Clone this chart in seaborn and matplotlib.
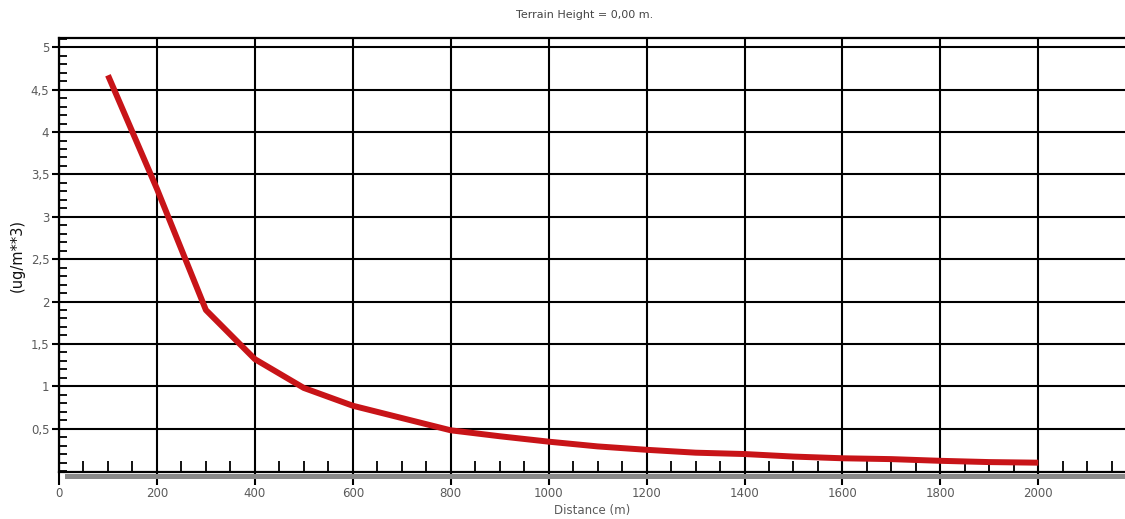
import numpy as np
import pandas as pd
import matplotlib
matplotlib.use("Agg")
import matplotlib.pyplot as plt
import seaborn as sns
from matplotlib.patches import Rectangle
from matplotlib.ticker import MultipleLocator, FixedLocator, FuncFormatter

# ---- data ----
distance_m = [100, 200, 300, 400, 500, 600, 700, 800, 900, 1000,
              1100, 1200, 1300, 1400, 1500, 1600, 1700, 1800, 1900, 2000]
concentration = [4.67, 3.33, 1.90, 1.32, 0.98, 0.77, 0.625, 0.48, 0.41, 0.346,
                 0.29, 0.25, 0.216, 0.20, 0.17, 0.15, 0.14, 0.12, 0.105, 0.098]
x_ticks = [0, 200, 400, 600, 800, 1000, 1200, 1400, 1600, 1800, 2000]
y_ticks = [0.5, 1, 1.5, 2, 2.5, 3, 3.5, 4, 4.5, 5]
title_text = "Terrain Height = 0,00 m."
x_label = "Distance (m)"
y_label = "(ug/m**3)"

df = pd.DataFrame({"Distance": distance_m, "Conc": concentration})

sns.set_theme(style="white")
plt.rcParams['font.family'] = ['DejaVu Sans']

fig = plt.figure(figsize=(11.25, 5.19), dpi=100)
ax = fig.add_axes([59/1125, 1 - 472/519, 1 - 59/1125, (472 - 38)/519])

sns.lineplot(data=df, x="Distance", y="Conc", ax=ax, color="#c81418",
             linewidth=4.3, solid_capstyle="butt", zorder=5)

ax.set_xlim(0, 2177)
ax.set_ylim(-0.012, 5.11)

ax.xaxis.set_major_locator(FixedLocator(x_ticks))
ax.xaxis.set_minor_locator(MultipleLocator(50))
ax.yaxis.set_major_locator(FixedLocator(y_ticks))
ax.yaxis.set_minor_locator(MultipleLocator(0.1))

def comma_fmt(v, pos):
    s = ("%g" % v)
    return s.replace(".", ",")
ax.yaxis.set_major_formatter(FuncFormatter(comma_fmt))
ax.xaxis.set_major_formatter(FuncFormatter(lambda v, p: "%d" % v))

ax.grid(True, which="major", color="black", linewidth=1.5)
ax.set_axisbelow(True)

for side in ["left", "top", "bottom"]:
    ax.spines[side].set_visible(True)
    ax.spines[side].set_color("black")
    ax.spines[side].set_linewidth(1.6)
ax.spines["right"].set_visible(False)

ax.tick_params(axis="x", which="major", direction="out", length=9, width=1.5,
               color="black", labelsize=8.5, labelcolor="#5a5a5a", pad=2, bottom=True)
ax.tick_params(axis="x", which="minor", direction="in", length=8, width=1.3,
               color="black", bottom=True)
ax.tick_params(axis="y", which="major", direction="out", length=5, width=1.5,
               color="black", labelsize=8.5, labelcolor="#5a5a5a", pad=2, left=True)
ax.tick_params(axis="y", which="minor", direction="in", length=6, width=1.3,
               color="black", left=True)

# gray shadow band under bottom axis
ax.add_patch(Rectangle((6/1066, -7/434), 1 - 6/1066, 5.5/434, transform=ax.transAxes,
                       facecolor="#8a8a8a", edgecolor="none", clip_on=False, zorder=1))

ax.set_xlabel(x_label, fontsize=8.5, color="#5a5a5a", labelpad=3)
ax.set_ylabel(y_label, fontsize=10.5, color="#111111", labelpad=4)

fig.text(585/1125, 1 - 15/519, title_text, ha="center", va="center",
         fontsize=8, color="#444444")

fig.savefig("out.png", dpi=100, facecolor="white")
